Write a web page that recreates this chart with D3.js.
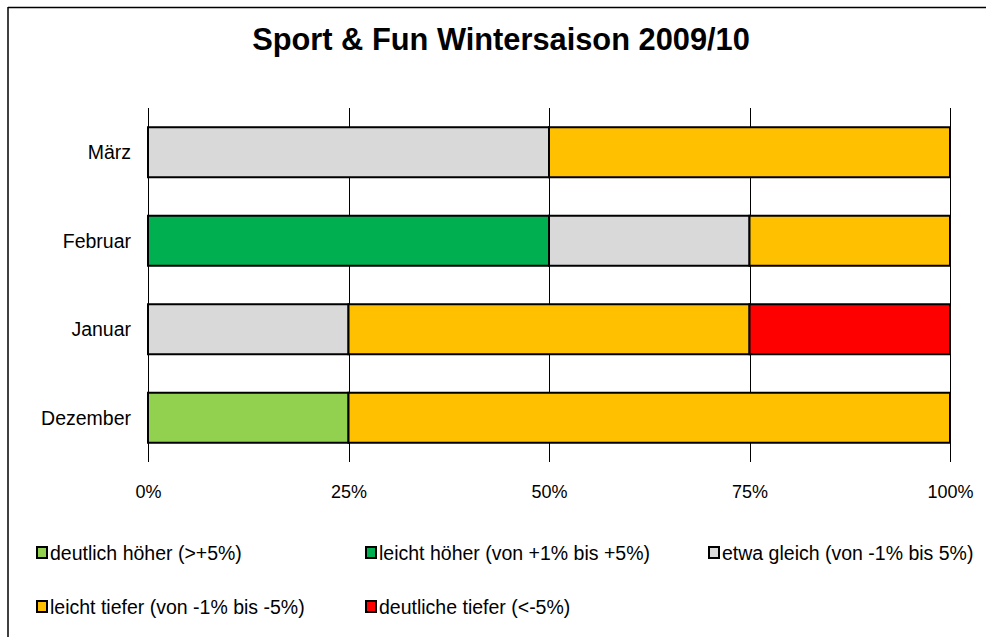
<!DOCTYPE html>
<html>
<head>
<meta charset="utf-8">
<script src="https://cdn.jsdelivr.net/npm/d3@7"></script>
<style>
  body { margin: 0; background: #fff; }
  text { font-family: Arial, "Liberation Sans", sans-serif; }
</style>
</head>
<body>
<svg id="chart" width="986" height="637"></svg>
<script>
// months, bottom to top as in the picture
var months = ["Dezember", "Januar", "Februar", "März"];
var seriesNames = [
  "deutlich höher (>+5%)",
  "leicht höher (von +1% bis +5%)",
  "etwa gleich (von -1% bis 5%)",
  "leicht tiefer (von -1% bis -5%)",
  "deutliche tiefer (<-5%)"
];
var seriesColors = ["#92d050", "#00b050", "#d9d9d9", "#ffc000", "#ff0000"];
// shares per series, one value per month (Dezember, Januar, Februar, März)
var deutlichHoeher = [0.25, 0, 0, 0];
var leichtHoeher   = [0, 0, 0.5, 0];
var etwaGleich     = [0, 0.25, 0.25, 0.5];
var leichtTiefer   = [0.75, 0.5, 0.25, 0.5];
var deutlichTiefer = [0, 0.25, 0, 0];
var tickValues = [0, 0.25, 0.5, 0.75, 1];

var svg = d3.select("#chart");

// frame (only top and left edges are visible)
svg.append("line").attr("x1", 8).attr("x2", 986).attr("y1", 7.5).attr("y2", 7.5)
  .attr("stroke", "#000").attr("stroke-width", 1.5);
svg.append("line").attr("x1", 8).attr("x2", 8).attr("y1", 7).attr("y2", 637)
  .attr("stroke", "#000").attr("stroke-width", 1.5);

svg.append("text")
  .attr("x", 501).attr("y", 50)
  .attr("text-anchor", "middle")
  .attr("font-size", 30.8).attr("font-weight", "bold")
  .text("Sport & Fun Wintersaison 2009/10");

var x = d3.scaleLinear().domain([0, 1]).range([148, 950]);
var y = d3.scaleBand().domain(months.slice().reverse()).range([108, 462]).paddingInner(0.435).paddingOuter(0.2175);

// gridlines
svg.append("g").selectAll("line").data(tickValues).join("line")
  .attr("x1", d => Math.round(x(d)) + 0.5).attr("x2", d => Math.round(x(d)) + 0.5)
  .attr("y1", 108).attr("y2", 462)
  .attr("stroke", "#000").attr("stroke-width", 1);

// stack
var table = months.map(function (m, i) {
  return { month: m, s0: deutlichHoeher[i], s1: leichtHoeher[i], s2: etwaGleich[i], s3: leichtTiefer[i], s4: deutlichTiefer[i] };
});
var keys = ["s0", "s1", "s2", "s3", "s4"];
var stacked = d3.stack().keys(keys)(table);

svg.append("g").selectAll("g").data(stacked).join("g")
  .attr("fill", (d, i) => seriesColors[i])
  .selectAll("rect").data(d => d.filter(p => p[1] - p[0] > 0)).join("rect")
  .attr("x", d => x(d[0]))
  .attr("width", d => x(d[1]) - x(d[0]))
  .attr("y", d => y(d.data.month))
  .attr("height", y.bandwidth())
  .attr("stroke", "#000").attr("stroke-width", 2);

// category labels
svg.append("g").selectAll("text").data(months).join("text")
  .attr("x", 131).attr("y", d => y(d) + y.bandwidth() / 2 + 7)
  .attr("text-anchor", "end").attr("font-size", 19.5)
  .text(d => d);

// x axis labels
var xAxis = d3.axisBottom(x).tickValues(tickValues).tickSize(0).tickFormat(d3.format(".0%"));
var ax = svg.append("g").attr("transform", "translate(0,482)").call(xAxis);
ax.select(".domain").remove();
ax.selectAll("text").attr("font-size", 18).attr("fill", "#000")
  .attr("font-family", "Arial, 'Liberation Sans', sans-serif");

// legend
var legendPos = [[36, 560], [365, 560], [708, 560], [36, 614], [365, 614]];
var lg = svg.append("g").selectAll("g").data(seriesNames).join("g")
  .attr("transform", (d, i) => "translate(" + legendPos[i][0] + "," + legendPos[i][1] + ")");
lg.append("rect").attr("x", 1).attr("y", -13).attr("width", 10).attr("height", 11)
  .attr("fill", (d, i) => seriesColors[i]).attr("stroke", "#000").attr("stroke-width", 2);
lg.append("text").attr("x", 14).attr("y", 0).attr("font-size", 19.5).text(d => d);
</script>
</body>
</html>
